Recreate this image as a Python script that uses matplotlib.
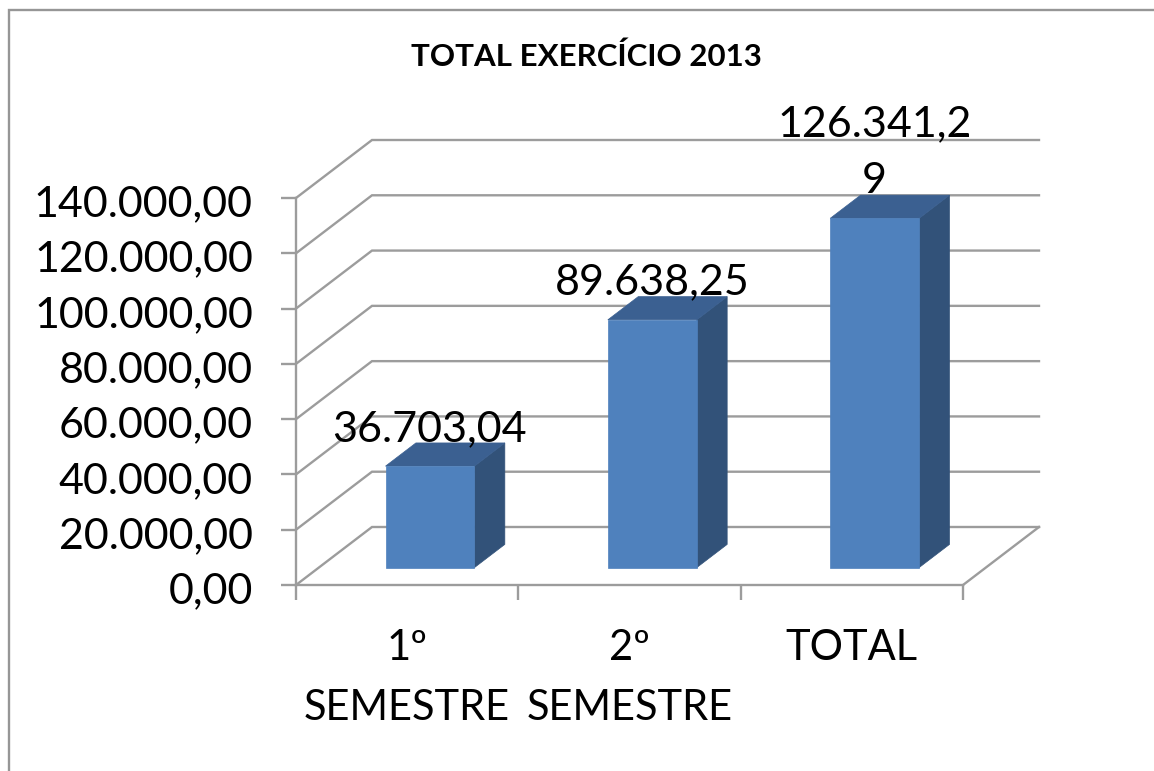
import matplotlib
matplotlib.use("Agg")
import matplotlib.pyplot as plt
from matplotlib.patches import Polygon, Rectangle
from matplotlib.transforms import ScaledTranslation

categories = ["1º\nSEMESTRE", "2º\nSEMESTRE", "TOTAL"]
values = [36703.04, 89638.25, 126341.29]
value_labels = ["36.703,04", "89.638,25", "126.341,2\n9"]
y_ticks = [0, 20000, 40000, 60000, 80000, 100000, 120000, 140000]
y_tick_labels = ["0,00", "20.000,00", "40.000,00", "60.000,00", "80.000,00",
                 "100.000,00", "120.000,00", "140.000,00"]
title = "TOTAL EXERCÍCIO 2013"

W, H = 1154, 771
GRID = "#9c9c9c"
LW = 1.7
FONT = "Lato"

# depth of the fake 3d box, in data units
DX = 76 / (667 / 3)
DY = 58 / 387 * 140000
BAR_W = 0.4
D0, D1 = 0.3, 0.7  # bar front / back inside the depth


def p(x, y, d=0.0):
    return (x + d * DX, y + d * DY)


fig = plt.figure(figsize=(W / 100, H / 100), dpi=100)
fig.add_artist(Rectangle((8.5 / W, -0.1), 1.2, 1.1 - 10.5 / H, transform=fig.transFigure,
                         fill=False, ec="#969696", lw=1.7))

ax = fig.add_axes([296 / W, 1 - 585 / H, 667 / W, 387 / H])
ax.set_xlim(0, 3)
ax.set_ylim(0, 140000)
ax.patch.set_visible(False)
for s in ["top", "right"]:
    ax.spines[s].set_visible(False)
for s in ["left", "bottom"]:
    ax.spines[s].set_color(GRID)
    ax.spines[s].set_linewidth(LW)

# walls and floor
for t in y_ticks:
    xs, ys = zip(p(0, t), p(0, t, 1), p(3, t, 1))
    ax.plot(xs, ys, color=GRID, lw=LW, clip_on=False, zorder=1, solid_joinstyle="miter")
xs, ys = zip(p(3, 0), p(3, 0, 1))
ax.plot(xs, ys, color=GRID, lw=LW, clip_on=False, zorder=1)

# bars
for i, (v, lab) in enumerate(zip(values, value_labels)):
    x0 = i + 0.5 - BAR_W / 2
    x1 = i + 0.5 + BAR_W / 2
    front = [p(x0, 0, D0), p(x1, 0, D0), p(x1, v, D0), p(x0, v, D0)]
    top = [p(x0, v, D0), p(x1, v, D0), p(x1, v, D1), p(x0, v, D1)]
    side = [p(x1, 0, D0), p(x1, 0, D1), p(x1, v, D1), p(x1, v, D0)]
    for pts, col in [(side, "#325279"), (top, "#3b6091"), (front, "#4f81bd")]:
        ax.add_patch(Polygon(pts, closed=True, fc=col, ec=col, lw=0.5, clip_on=False, zorder=3))
    lx = p(i + 0.5, v, D0)[0]
    ly = p(i + 0.5, v, D1)[1]
    ax.annotate(lab, (lx, ly), xytext=(0, 1.5), textcoords="offset points",
                ha="center", va="baseline", fontsize=31, family=FONT,
                linespacing=1.6, color="black", zorder=5, annotation_clip=False)

ax.set_yticks(y_ticks)
ax.set_yticklabels(y_tick_labels, fontsize=31, family=FONT)
ax.tick_params(axis="y", length=11, width=LW, color=GRID, pad=20)
# labels sit a little under their ticks in the original
shift = ScaledTranslation(0, -2 / 72, fig.dpi_scale_trans)
for t in ax.get_yticklabels():
    t.set_transform(t.get_transform() + shift)

ax.set_xticks([0, 1, 2, 3])
ax.set_xticklabels([])
ax.tick_params(axis="x", which="major", length=11, width=LW, color=GRID)
ax.set_xticks([0.5, 1.5, 2.5], minor=True)
ax.set_xticklabels(categories, minor=True, fontsize=30, family=FONT, linespacing=1.7)
ax.tick_params(axis="x", which="minor", length=0, pad=32)

fig.text(586 / W, 1 - 57 / H, title, ha="center", va="center", fontsize=22.5,
         fontweight="bold", family=FONT)

fig.savefig("out.png", dpi=100)
